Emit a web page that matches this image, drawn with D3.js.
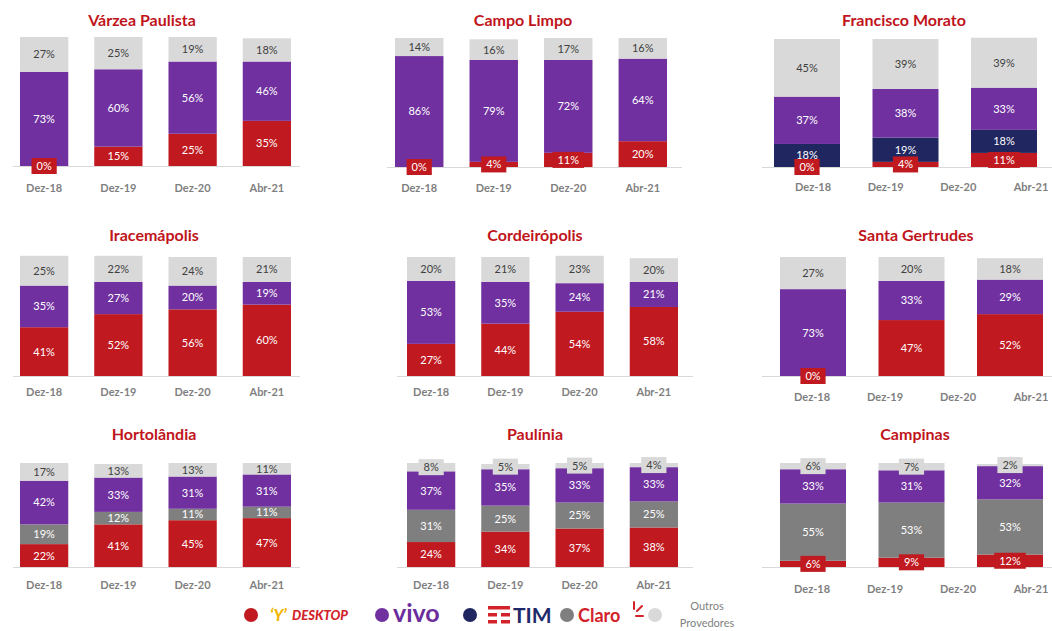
<!DOCTYPE html>
<html>
<head>
<meta charset="utf-8">
<script src="https://cdn.jsdelivr.net/npm/d3@7"></script>
<style>
  body { margin: 0; background: #fff; }
  svg { display: block; font-family: Lato, "Open Sans", sans-serif; }
</style>
</head>
<body>
<div id="chart"></div>
<script>
// data (percent)
const cities = ["Várzea Paulista", "Campo Limpo", "Francisco Morato",
                "Iracemápolis", "Cordeirópolis", "Santa Gertrudes",
                "Hortolândia", "Paulínia", "Campinas"];
const periods = ["Dez-18", "Dez-19", "Dez-20", "Abr-21"];

const desktop = [[0, 15, 25, 35], [0, 4, 11, 20], [0, 4, 11],
                 [41, 52, 56, 60], [27, 44, 54, 58], [0, 47, 52],
                 [22, 41, 45, 47], [24, 34, 37, 38], [6, 9, 12]];
const tim     = [null, null, [18, 19, 18],
                 null, null, null,
                 null, null, null];
const claro   = [null, null, null,
                 null, null, null,
                 [19, 12, 11, 11], [31, 25, 25, 25], [55, 53, 53]];
const vivo    = [[73, 60, 56, 46], [86, 79, 72, 64], [37, 38, 33],
                 [35, 27, 20, 19], [53, 35, 24, 21], [73, 33, 29],
                 [42, 33, 31, 31], [37, 35, 33, 33], [33, 31, 32]];
const outros  = [[27, 25, 19, 18], [14, 16, 17, 16], [45, 39, 39],
                 [25, 22, 24, 21], [20, 21, 23, 20], [27, 20, 18],
                 [17, 13, 13, 11], [8, 5, 5, 4], [6, 7, 2]];

const series = [
  { key: "desktop", data: desktop, color: "#c0191f", text: "#fff", box: 12 },
  { key: "tim",     data: tim,     color: "#1f2660", text: "#fff", box: -1 },
  { key: "claro",   data: claro,   color: "#7f7f7f", text: "#fff", box: -1 },
  { key: "vivo",    data: vivo,    color: "#7030a0", text: "#fff", box: -1 },
  { key: "outros",  data: outros,  color: "#d9d9d9", text: "#404040", box: 8 }
];

// panel layout (pixels)
const panels = [
  { bars: [20, 291],  top: 37,  base: 166, line: [13, 300],   tx: 142, ty: 26,  ly: 192 },
  { bars: [395, 667], top: 38,  base: 167, line: [387, 682],  tx: 523, ty: 26,  ly: 192 },
  { bars: [774, 1037], top: 39, base: 167, line: [762, 1052], tx: 904, ty: 26,  ly: 191, ticks: [813, 1031] },
  { bars: [20, 291],  top: 257, base: 376, line: [13, 300],   tx: 154, ty: 241, ly: 396 },
  { bars: [407, 678], top: 257, base: 376, line: [397, 693],  tx: 535, ty: 241, ly: 396 },
  { bars: [780, 1043], top: 257, base: 376, line: [762, 1052], tx: 916, ty: 241, ly: 401, ticks: [812, 1031] },
  { bars: [20, 291],  top: 463, base: 567, line: [13, 300],   tx: 154, ty: 440, ly: 589 },
  { bars: [407, 678], top: 463, base: 567, line: [397, 693],  tx: 535, ty: 440, ly: 589 },
  { bars: [780, 1043], top: 463, base: 567, line: [762, 1052], tx: 915, ty: 440, ly: 593, ticks: [812, 1031] }
];

const W = 1052, H = 631;
const svg = d3.select("#chart").append("svg")
  .attr("width", W).attr("height", H);

cities.forEach((city, ci) => {
  const p = panels[ci];
  const n = vivo[ci].length;
  const idx = d3.range(n);

  const x = d3.scaleBand().domain(idx).range(p.bars)
    .paddingInner(n === 3 ? 0.33 : 0.35).paddingOuter(0);
  const y = d3.scaleLinear().domain([0, 100]).range([p.base, p.top]);

  const g = svg.append("g");

  // title
  g.append("text")
    .attr("x", p.tx).attr("y", p.ty)
    .attr("text-anchor", "middle")
    .style("font-size", "16px").style("font-weight", 700)
    .style("fill", "#c0141c")
    .text(city);

  // baseline
  g.append("line")
    .attr("x1", p.line[0]).attr("x2", p.line[1])
    .attr("y1", p.base + 0.5).attr("y2", p.base + 0.5)
    .style("stroke", "#d9d9d9");

  // stack segments
  let segs = [];
  idx.forEach(i => {
    let acc = 0;
    series.forEach(s => {
      const arr = s.data[ci];
      if (!arr) return;
      const v = arr[i];
      segs.push({ i: i, v: v, y0: acc, y1: acc + v, s: s });
      acc += v;
    });
  });

  g.selectAll("rect.seg").data(segs).enter()
    .append("rect").attr("class", "seg")
    .attr("x", d => x(d.i))
    .attr("width", x.bandwidth())
    .attr("y", d => y(d.y1))
    .attr("height", d => y(d.y0) - y(d.y1))
    .attr("fill", d => d.s.color);

  // labels
  segs.forEach(d => {
    const cx = x(d.i) + x.bandwidth() / 2;
    const cy = (y(d.y0) + y(d.y1)) / 2;
    const t = g.append("text")
      .attr("x", cx).attr("y", cy).attr("dy", "0.36em")
      .attr("text-anchor", "middle")
      .style("font-size", "11px")
      .style("fill", d.s.text)
      .text(d.v + "%");
    if (d.v <= d.s.box) {
      const w = t.node().getComputedTextLength() + 10;
      g.insert("rect", () => t.node())
        .attr("x", cx - w / 2).attr("width", w)
        .attr("y", cy - 8).attr("height", 16)
        .attr("fill", d.s.color);
    }
  });

  // category labels
  const tickX = p.ticks
    ? d3.scalePoint().domain(periods).range(p.ticks)
    : (lab => x(periods.indexOf(lab)) + x.bandwidth() / 2);
  g.selectAll("text.tick").data(periods).enter()
    .append("text").attr("class", "tick")
    .attr("x", d => tickX(d)).attr("y", p.ly)
    .attr("text-anchor", "middle")
    .style("font-size", "11px").style("font-weight", 700)
    .style("fill", "#7f7f7f")
    .text(d => d);
});

// legend
const leg = svg.append("g");
const legY = 615;

leg.append("circle").attr("cx", 251).attr("cy", legY).attr("r", 7).attr("fill", series[0].color);
leg.append("text").attr("x", 270).attr("y", legY + 6)
  .style("font-size", "16px").style("font-weight", 900).style("font-style", "italic")
  .style("fill", "#f2b705").text("\u2018Y\u2019");
leg.append("text").attr("x", 292).attr("y", legY + 5)
  .style("font-size", "13px").style("font-weight", 900).style("font-style", "italic")
  .style("fill", "#d2232a").text("DESKTOP");

leg.append("circle").attr("cx", 382).attr("cy", legY).attr("r", 7).attr("fill", series[3].color);
leg.append("text").attr("x", 393).attr("y", legY + 7)
  .style("font-size", "25px").style("font-weight", 700)
  .style("fill", "#6b2c9c").text("vivo");

leg.append("circle").attr("cx", 470).attr("cy", legY).attr("r", 7).attr("fill", series[1].color);
const timLogo = leg.append("g").attr("transform", "translate(488," + (legY - 9) + ")");
[[0, 0, 22], [0, 7, 9], [13, 7, 9], [0, 14, 9], [13, 14, 9]].forEach(r => {
  timLogo.append("rect").attr("x", r[0]).attr("y", r[1]).attr("width", r[2]).attr("height", 3.5).attr("fill", "#d2232a");
});
leg.append("text").attr("x", 513).attr("y", legY + 8)
  .style("font-size", "21px").style("font-weight", 700)
  .style("fill", "#1f2a6b").text("TIM");

leg.append("circle").attr("cx", 567).attr("cy", legY).attr("r", 7).attr("fill", series[2].color);
leg.append("text").attr("x", 578).attr("y", legY + 7)
  .style("font-size", "18px").style("font-weight", 700)
  .style("fill", "#d2232a").text("Claro");
const sun = leg.append("g").attr("transform", "translate(632," + (legY - 2) + ")")
  .style("stroke", "#d2232a").style("stroke-width", 2).style("stroke-linecap", "round");
sun.append("line").attr("x1", 2).attr("y1", -4).attr("x2", 2).attr("y2", -11);
sun.append("line").attr("x1", 5).attr("y1", -2).attr("x2", 10).attr("y2", -7);
sun.append("line").attr("x1", 4).attr("y1", 3).attr("x2", 11).attr("y2", 3);

leg.append("circle").attr("cx", 655).attr("cy", legY).attr("r", 7).attr("fill", series[4].color);
leg.append("text").attr("x", 707).attr("y", legY - 5)
  .attr("text-anchor", "middle").style("font-size", "11px").style("fill", "#7f7f7f").text("Outros");
leg.append("text").attr("x", 707).attr("y", legY + 12)
  .attr("text-anchor", "middle").style("font-size", "11px").style("fill", "#7f7f7f").text("Provedores");
</script>
</body>
</html>
